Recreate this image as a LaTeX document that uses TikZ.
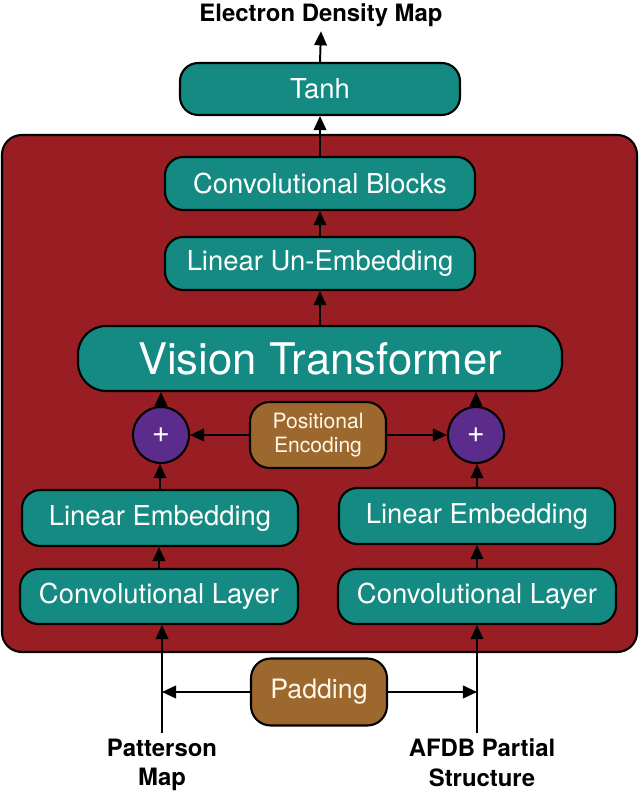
\documentclass[tikz,border=0pt]{standalone}
\usepackage{fontspec}
\setmainfont{TeX Gyre Heros}
\usetikzlibrary{arrows.meta,calc}
\definecolor{netteal}{RGB}{20,138,131}
\definecolor{netred}{RGB}{152,30,36}
\definecolor{netbrown}{RGB}{156,104,46}
\definecolor{netpurple}{RGB}{92,44,140}
\definecolor{netcream}{RGB}{255,248,232}

\begin{document}
\begin{tikzpicture}[
    block/.style={draw=black, line width=1.5pt, fill=netteal, text=white, rounded corners=13pt,
        font=\fontsize{19.5}{23}\selectfont, inner sep=0pt},
    extra/.style={draw=black, line width=1.5pt, fill=netbrown, text=netcream, rounded corners=14pt,
        align=center, inner sep=0pt},
    adder/.style={draw=black, line width=1.5pt, fill=netpurple, text=white, circle,
        minimum size=1.4cm, inner sep=0pt, font=\fontsize{22}{24}\selectfont},
    io/.style={font=\fontsize{17}{21}\selectfont\bfseries, align=center},
    flow/.style={line width=1.4pt, -{Triangle[length=10pt,width=9pt]}}
]
    \useasboundingbox (0,0) rectangle (16,19.8);

    % Draw the red frame of the model
    \draw[line width=1.5pt, fill=netred, rounded corners=14pt] (0.05,3.5) rectangle (15.925,16.425);

    % Place the blocks of the network
    \node[block, minimum width=7cm, minimum height=1.3cm] (tanh) at (8.0,17.575) {Tanh};
    \node[block, minimum width=7.75cm, minimum height=1.325cm] (blocks) at (8.0,15.2125) {Convolutional Blocks};
    \node[block, minimum width=7.75cm, minimum height=1.325cm] (unemb) at (8.0,13.2125) {Linear Un-Embedding};
    \node[block, minimum width=12.1cm, minimum height=1.625cm, rounded corners=20pt,
        font=\fontsize{31}{36}\selectfont] (vit) at (8.0,10.8375) {Vision Transformer};

    \node[adder] (plusL) at (4.025,8.925) {+};
    \node[adder] (plusR) at (11.9,8.925) {+};
    \node[extra, minimum width=3.4cm, minimum height=1.65cm,
        font=\fontsize{15}{17}\selectfont] (pos) at (7.95,8.925) {Positional\\Encoding};

    \node[block, minimum width=6.9cm, minimum height=1.4cm] (embL) at (4.0,6.85) {Linear Embedding};
    \node[block, minimum width=6.9cm, minimum height=1.4cm] (embR) at (11.925,6.9) {Linear Embedding};
    \node[block, minimum width=6.95cm, minimum height=1.375cm] (convL) at (3.975,4.8875) {Convolutional Layer};
    \node[block, minimum width=6.95cm, minimum height=1.375cm] (convR) at (11.925,4.8875) {Convolutional Layer};

    \node[extra, minimum width=3.4cm, minimum height=1.675cm,
        font=\fontsize{19}{23}\selectfont] (pad) at (7.975,2.5) {Padding};

    % Inputs and output
    \coordinate (inL) at (4.05,1.475);
    \coordinate (inR) at (11.925,1.475);
    \node[io, anchor=north] (patt) at (4.05,1.45) {Patterson\\Map};
    \node[io, anchor=north] (afdb) at (12.05,1.45) {AFDB Partial\\Structure};
    \node[io] (title) at (8.025,19.43) {Electron Density Map};

    % Draw the arrows
    \draw[flow] (tanh.north) -- (title.south);
    \draw[flow] (blocks.north) -- (tanh.south);
    \draw[flow] (unemb.north) -- (blocks.south);
    \draw[flow] (vit.north) -- (unemb.south);
    \draw[flow] (plusL.north) -- (plusL.north |- vit.south);
    \draw[flow] (plusR.north) -- (plusR.north |- vit.south);
    \draw[flow] (pos.west) -- (plusL.east);
    \draw[flow] (pos.east) -- (plusR.west);
    \draw[flow] (embL.north) -- (embL.north |- plusL.south);
    \draw[flow] (embR.north) -- (embR.north |- plusR.south);
    \draw[flow] (convL.north) -- (convL.north |- embL.south);
    \draw[flow] (convR.north) -- (convR.north |- embR.south);
    \draw[flow] (inL) -- (inL |- convL.south);
    \draw[flow] (inR) -- (inR |- convR.south);
    \draw[flow] (pad.west) -- (pad.west -| inL);
    \draw[flow] (pad.east) -- (pad.east -| inR);

\end{tikzpicture}
\end{document}
